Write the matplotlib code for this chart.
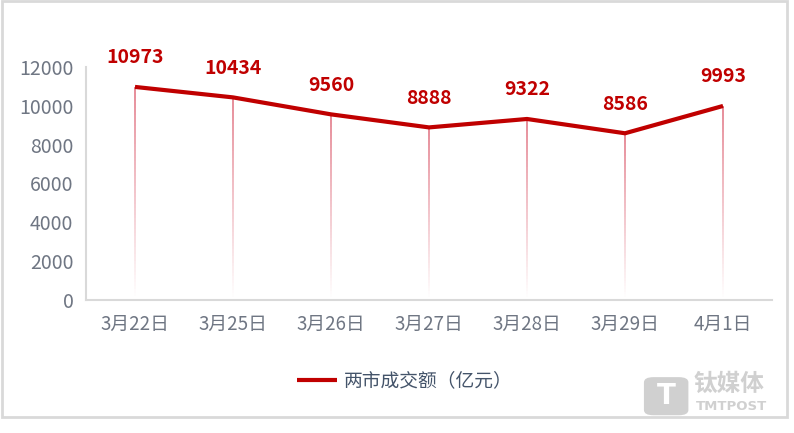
import numpy as np
import matplotlib.pyplot as plt
from matplotlib.collections import LineCollection
from matplotlib.patches import FancyBboxPatch, Rectangle

plt.rcParams['font.family'] = ['Noto Sans CJK SC', 'DejaVu Sans']

# dados
datas = ['3月22日', '3月25日', '3月26日', '3月27日', '3月28日', '3月29日', '4月1日']
volume = [10973, 10434, 9560, 8888, 9322, 8586, 9993]
yticks = [0, 2000, 4000, 6000, 8000, 10000, 12000]
serie_nome = '两市成交额（亿元）'

vermelho = '#c00000'
cinza_txt = '#6f7683'

fig = plt.figure(figsize=(7.94, 4.33), dpi=100)
ax = fig.add_axes([0.1083, 0.3072, 0.8640, 0.5381])

x = np.arange(len(datas))

# linhas verticais em degradê (rosa -> branco)
n_seg = 60
for xi, yi in zip(x, volume):
    ys = np.linspace(0, yi, n_seg + 1)
    segs = [[(xi, ys[k]), (xi, ys[k + 1])] for k in range(n_seg)]
    alphas = np.linspace(0.0, 0.75, n_seg)
    cores = [(0.86, 0.35, 0.42, a) for a in alphas]
    ax.add_collection(LineCollection(segs, colors=cores, linewidths=1.3, zorder=2))

linha, = ax.plot(x, volume, color=vermelho, lw=3.0, zorder=3, solid_capstyle='butt',
                 label=serie_nome)

for xi, yi in zip(x, volume):
    ax.annotate(f'{yi}', (xi, yi), xytext=(0, 17), textcoords='offset points',
                ha='center', va='baseline', fontsize=14, fontweight='bold',
                color=vermelho)

ax.set_xlim(-0.5, len(datas) - 0.5)
ax.set_ylim(0, 12000)
ax.set_yticks(yticks)
ax.set_xticks(x)
ax.set_xticklabels(datas)
ax.tick_params(axis='both', length=0, labelsize=13.5, colors=cinza_txt)
ax.tick_params(axis='y', labelsize=14, pad=9)
ax.tick_params(axis='x', pad=10)

for s in ['top', 'right']:
    ax.spines[s].set_visible(False)
for s in ['left', 'bottom']:
    ax.spines[s].set_color('#d9d9d9')
    ax.spines[s].set_linewidth(1.5)

leg = fig.legend(handles=[linha], loc='center', bbox_to_anchor=(0.51, 0.12),
                 frameon=False, fontsize=13.5, handlelength=2.1, handletextpad=0.4)
for t in leg.get_texts():
    t.set_color('#44546a')

# moldura
fig.patches.append(Rectangle((0.002, 0.037), 0.989, 0.96, transform=fig.transFigure,
                             fill=False, edgecolor='#d9d9d9', lw=2.0))

# marca d'água
fig.patches.append(FancyBboxPatch((0.815, 0.045), 0.048, 0.08,
                                  boxstyle='round,pad=0.004,rounding_size=0.012',
                                  transform=fig.transFigure, facecolor='#d0d0d0',
                                  edgecolor='none'))
fig.text(0.839, 0.085, 'T', ha='center', va='center', fontsize=20, fontweight='bold',
         color='white', family=['DejaVu Sans'])
fig.text(0.874, 0.113, '钛媒体', ha='left', va='center', fontsize=17,
         color='#d0d0d0', fontweight='bold')
fig.text(0.876, 0.062, 'TMTPOST', ha='left', va='center', fontsize=9.5,
         color='#d0d0d0', fontweight='bold', family=['DejaVu Sans'])

fig.savefig('out.png', dpi=100)
